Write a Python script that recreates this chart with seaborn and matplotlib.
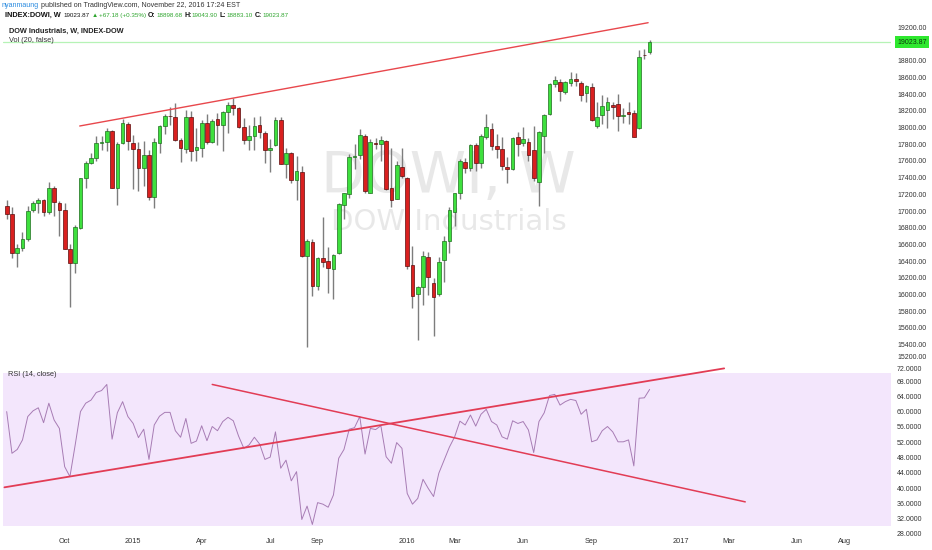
import numpy as np
import pandas as pd
import matplotlib
matplotlib.use("Agg")
import matplotlib.pyplot as plt
import matplotlib.dates as mdates
import seaborn as sns

# ---------------- data (weekly bars, Monday dates) ----------------
first_week = "2014-07-21"
n_weeks = 123

opens = [17060, 16960, 16493, 16553, 16662, 17010, 17098, 17130, 16988, 17270,
         17100, 17010, 16540, 16380, 16800, 17390, 17573, 17634, 17810, 17828,
         17958, 17280, 17810, 18045, 17820, 17740, 17511, 17672, 17165, 17820,
         18019, 18135, 18130, 17850, 17740, 18128, 17735, 17760, 18058, 17826,
         18100, 18024, 18191, 18272, 18232, 18011, 17849, 17898, 18030, 17930,
         17730, 17790, 18086, 17568, 17700, 17373, 17470, 16460, 16625, 16105,
         16440, 16400, 16302, 16500, 17072, 17204, 17643, 17667, 17902, 17220,
         17818, 17799, 17842, 17272, 17143, 17530, 17400, 16353, 16006, 16093,
         16453, 16141, 16006, 16413, 16637, 16985, 17212, 17587, 17519, 17790,
         17578, 17883, 17986, 17778, 17739, 17531, 17500, 17890, 17818, 17823,
         17730, 17351, 17902, 18158, 18517, 18549, 18429, 18537, 18581, 18537,
         18417, 18489, 18018, 18150, 18210, 18270, 18282, 18138, 18190, 18170,
         17990, 18870, 18898.68]
highs = [17130, 17050, 16610, 16750, 17060, 17122, 17158, 17140, 17350, 17300,
         17120, 17100, 16600, 16830, 17395, 17600, 17700, 17894, 17894, 17991,
         17975, 17830, 18103, 18060, 17910, 17830, 17840, 17730, 17880, 18035,
         18160, 18244, 18288, 17875, 18207, 18200, 18000, 18090, 18164, 18100,
         18175, 18200, 18300, 18351, 18240, 18110, 18030, 18125, 18137, 17960,
         17860, 18130, 18130, 17750, 17710, 17660, 17540, 16666, 16660, 16450,
         16933, 16573, 16490, 17100, 17220, 17680, 17799, 17978, 17920, 17860,
         17870, 17900, 17850, 17750, 17600, 17750, 17410, 16580, 16100, 16520,
         16510, 16200, 16450, 16700, 17050, 17220, 17620, 17630, 17800, 17810,
         17920, 18167, 18050, 17922, 17890, 17650, 17890, 17950, 18003, 17870,
         18016, 17960, 18160, 18537, 18622, 18580, 18560, 18668, 18650, 18560,
         18510, 18538, 18300, 18390, 18365, 18300, 18400, 18230, 18300, 18210,
         18934, 18935, 19043.90]
lows = [16910, 16440, 16333, 16520, 16640, 16990, 16980, 16945, 16970, 16945,
        16700, 16540, 15855, 16260, 16780, 17280, 17560, 17600, 17730, 17720,
        17275, 17068, 17800, 17730, 17262, 17243, 17300, 17136, 17037, 17690,
        17920, 18030, 17835, 17590, 17700, 17600, 17600, 17650, 17800, 17820,
        17790, 17716, 17934, 18150, 17990, 17800, 17736, 17730, 17880, 17580,
        17465, 17780, 17560, 17400, 17340, 17130, 16450, 15370, 15980, 16050,
        16330, 16014, 15942, 16480, 16900, 17150, 17500, 17620, 17210, 17210,
        17740, 17600, 17250, 17050, 17140, 17400, 16300, 15843, 15450, 15880,
        15990, 15503, 15980, 16150, 16500, 16820, 17140, 17450, 17480, 17485,
        17520, 17860, 17730, 17630, 17490, 17331, 17490, 17660, 17780, 17600,
        17360, 17063, 17700, 18150, 18480, 18320, 18400, 18500, 18500, 18320,
        18300, 18080, 17992, 18040, 18000, 18100, 17960, 18050, 18040, 17883,
        17985, 18820, 18883.10]
closes = [16960, 16493, 16553, 16662, 17001, 17098, 17137, 16988, 17280, 17113,
          17009, 16544, 16380, 16805, 17391, 17573, 17634, 17810, 17828, 17958,
          17280, 17804, 18053, 17833, 17737, 17511, 17672, 17165, 17825, 18019,
          18140, 18133, 17856, 17749, 18128, 17713, 17763, 18058, 17826, 18080,
          18024, 18191, 18272, 18232, 18011, 17849, 17898, 18015, 17947, 17730,
          17760, 18086, 17568, 17690, 17373, 17477, 16460, 16643, 16102, 16433,
          16384, 16315, 16472, 17084, 17216, 17647, 17663, 17910, 17245, 17824,
          17798, 17848, 17265, 17128, 17552, 17425, 16346, 15988, 16093, 16466,
          16205, 15974, 16392, 16640, 17006, 17213, 17602, 17516, 17792, 17577,
          17897, 18004, 17774, 17740, 17535, 17501, 17873, 17807, 17865, 17675,
          17400, 17949, 18146, 18516, 18570, 18432, 18543, 18576, 18552, 18395,
          18492, 18085, 18123, 18261, 18308, 18240, 18138, 18145, 18161, 17888,
          18847, 18868, 19023.87]
rsi = [60.0, 49.1, 50.1, 52.6, 58.7, 60.2, 61.0, 57.1, 62.2, 57.8,
       55.6, 45.6, 43.0, 51.3, 60.0, 62.2, 63.0, 65.0, 65.5, 67.1,
       52.8, 59.7, 62.6, 58.7, 56.9, 53.2, 55.4, 47.5, 56.5, 58.8,
       59.8, 59.8, 55.0, 53.3, 58.2, 51.7, 52.3, 56.3, 52.4, 56.1,
       55.0, 57.4, 58.5, 57.6, 53.6, 50.4, 51.3, 53.3, 51.5, 47.5,
       48.1, 54.7, 45.2, 47.3, 41.9, 44.3, 31.8, 35.3, 30.5, 36.2,
       35.8, 35.0, 38.2, 47.8, 50.1, 55.4, 55.8, 58.7, 48.9, 55.6,
       55.3, 56.3, 48.2, 46.5, 51.9, 50.4, 38.6, 35.8, 37.3, 42.3,
       39.9, 37.8, 43.9, 47.3, 50.7, 53.4, 57.5, 56.5, 59.1, 56.2,
       59.3, 60.6, 57.4, 56.5, 53.4, 52.8, 57.6, 56.9, 57.4, 55.2,
       49.3, 57.4, 59.7, 64.2, 64.5, 61.7, 62.6, 63.2, 62.9, 59.3,
       60.6, 52.1, 52.6, 55.0, 56.1, 54.7, 52.1, 52.1, 52.6, 45.8,
       63.5, 63.6, 65.8]

last_price = 19023.87

# hand-drawn trend lines (dates, values)
price_trend_dates = ["2014-10-26", "2016-11-19"]
price_trend_vals = [18018, 19255]
rsi_up_dates = ["2014-07-18", "2017-02-28"]
rsi_up_vals = [40.2, 71.3]
rsi_down_dates = ["2015-04-20", "2017-03-28"]
rsi_down_vals = [67.1, 36.4]

tick_dates = ["2014-10-06", "2015-01-05", "2015-04-06", "2015-07-06", "2015-09-07",
              "2016-01-04", "2016-03-07", "2016-06-06", "2016-09-05", "2017-01-02",
              "2017-03-06", "2017-06-05", "2017-08-07"]
tick_labels = ["Oct", "2015", "Apr", "Jul", "Sep", "2016", "Mar", "Jun", "Sep",
               "2017", "Mar", "Jun", "Aug"]

price_ticks = list(range(15200, 19201, 200))
rsi_ticks = list(range(28, 73, 4))

# ---------------- style ----------------
sns.set_theme(style="white")
plt.rcParams['font.family'] = ['Liberation Sans', 'DejaVu Sans']

W, H = 932, 550
fig = plt.figure(figsize=(W / 100, H / 100), dpi=100)
fig.patch.set_facecolor("white")

L_px, R_px = 3, 891
top_px, mid_px, bot_px = 22, 365.7, 535

def rect(top, bottom):
    return [L_px / W, 1 - bottom / H, (R_px - L_px) / W, (bottom - top) / H]

ax = fig.add_axes(rect(top_px, mid_px))
axr = fig.add_axes(rect(mid_px, bot_px), sharex=ax)

dates = pd.date_range(first_week, periods=n_weeks, freq="W-MON")
xn = mdates.date2num(dates)
o = np.array(opens, float); c = np.array(closes, float)
h = np.array(highs, float); l = np.array(lows, float)
up = c >= o

# ---------------- price pane ----------------
# watermark behind the candles
ax.text((448 - L_px) / (R_px - L_px), 1 - (177 - top_px) / (mid_px - top_px), "DOWI, W",
        transform=ax.transAxes, ha="center", va="center", fontsize=41,
        color="#e8e8e8", family="DejaVu Sans", zorder=0)
ax.text((449 - L_px) / (R_px - L_px), 1 - (222 - top_px) / (mid_px - top_px), "DOW Industrials",
        transform=ax.transAxes, ha="center", va="center", fontsize=21,
        color="#e8e8e8", family="DejaVu Sans", zorder=0)

ax.vlines(xn, l, h, color="#7d7d7d", lw=1.0, zorder=2)
body_bottom = np.minimum(o, c)
body_h = np.maximum(np.abs(c - o), 2.0)
ax.bar(xn, body_h, bottom=body_bottom, width=4.9,
       color=np.where(up, "#3ee03e", "#d9201f"),
       edgecolor=np.where(up, "#1f6e1f", "#5a0d0d"), linewidth=0.5, zorder=3)

ax.axhline(last_price, color="#b6f3b6", lw=0.9, zorder=1)
ax.plot(pd.to_datetime(price_trend_dates), price_trend_vals, color="#e8474c", lw=1.0, zorder=4)

x_left = xn[0] - 4.9
x_right = xn[0] + 1174.6
ax.set_xlim(x_left, x_right)
ppx = 200 / 16.7
ax.set_ylim(19200 - (mid_px - 27.3) * ppx, 19200 + (27.3 - top_px) * ppx)

ax.yaxis.tick_right()
ax.set_yticks(price_ticks)
# the 19000 label is hidden under the last-price tag in the reference
ax.set_yticklabels(["" if v == 19000 else f"{v:.2f}" for v in price_ticks])
ax.tick_params(axis="y", length=0, pad=4.3, labelsize=5, labelcolor="#333333")
ax.tick_params(axis="x", bottom=False, labelbottom=False)
ax.get_yticklabels()[0].set_va("bottom")
for s in ax.spines.values():
    s.set_visible(False)

ax.text(1.0 + 6.0 / (R_px - L_px), last_price, f"{last_price:.2f}",
        transform=ax.get_yaxis_transform(),
        ha="left", va="center", fontsize=5, color="#0b3b0b", clip_on=False, zorder=10,
        bbox=dict(boxstyle="square,pad=0.3", fc="#2ee82e", ec="none"))

# ---------------- RSI pane ----------------
axr.axhspan(30, 70, color="#f3e6fc", zorder=0, lw=0)
sns.lineplot(x=dates, y=rsi, ax=axr, color="#a77cb4", linewidth=0.7, zorder=3)
axr.plot(pd.to_datetime(rsi_up_dates), rsi_up_vals, color="#e23c55", lw=1.3, zorder=4)
axr.plot(pd.to_datetime(rsi_down_dates), rsi_down_vals, color="#e23c55", lw=1.1, zorder=4)
axr.set_ylim(72 - (bot_px - 365.7) / 3.825, 72.0)
axr.set_xlim(x_left, x_right)
axr.yaxis.tick_right()
axr.set_yticks(rsi_ticks)
axr.set_yticklabels([f"{v:.4f}" for v in rsi_ticks])
axr.tick_params(axis="y", length=0, pad=4.3, labelsize=5, labelcolor="#333333")
axr.get_yticklabels()[-1].set_va("top")
axr.set_xticks(mdates.date2num(pd.to_datetime(tick_dates)))
axr.set_xticklabels(tick_labels)
axr.tick_params(axis="x", length=0, pad=2.5, labelsize=5.3, labelcolor="#333333")
axr.set_xlabel(""); axr.set_ylabel("")
for s in axr.spines.values():
    s.set_visible(False)

# ---------------- texts ----------------
def ftxt(xp, yp, s, **kw):
    return fig.text(xp / W, 1 - yp / H, s, **kw)

renderer = fig.canvas.get_renderer()

def chain(x0, yp, pieces):
    x = x0
    for s, col, wt, gap, size in pieces:
        t = ftxt(x, yp, s, ha="left", va="center", fontsize=size, color=col, fontweight=wt)
        bb = t.get_window_extent(renderer=renderer)
        x += bb.width + gap

chain(2, 5.5, [("nyanmaung", "#2a8be0", "normal", 2.0, 5.1),
               ("published on TradingView.com, November 22, 2016 17:24 EST", "#333333", "normal", 0, 5.1)])
g = "#2ea52e"
k = "#111111"
ns = 4.5
chain(5, 15.5, [("INDEX:DOWI, W", k, "bold", 3.0, 5.3),
                ("19023.87", k, "normal", 2.0, ns),
                ("\u25B2", g, "normal", 1.0, ns),
                ("+67.18 (+0.35%)", g, "normal", 2.0, ns),
                ("O:", k, "bold", 0.3, 5.0), ("18898.68", g, "normal", 2.0, ns),
                ("H:", k, "bold", 0.3, 5.0), ("19043.90", g, "normal", 2.0, ns),
                ("L:", k, "bold", 0.3, 5.0), ("18883.10", g, "normal", 2.0, ns),
                ("C:", k, "bold", 0.3, 5.0), ("19023.87", g, "normal", 0, ns)])

ftxt(9, 31.3, "DOW Industrials, W, INDEX-DOW", ha="left", va="center", fontsize=5.3,
     fontweight="bold", color="#222222")
ftxt(9, 40.3, "Vol (20, false)", ha="left", va="center", fontsize=5.3, color="#333333")
ftxt(8, 374, "RSI (14, close)", ha="left", va="center", fontsize=5.3, color="#333333")

fig.savefig("out.png", dpi=100, facecolor="white")
